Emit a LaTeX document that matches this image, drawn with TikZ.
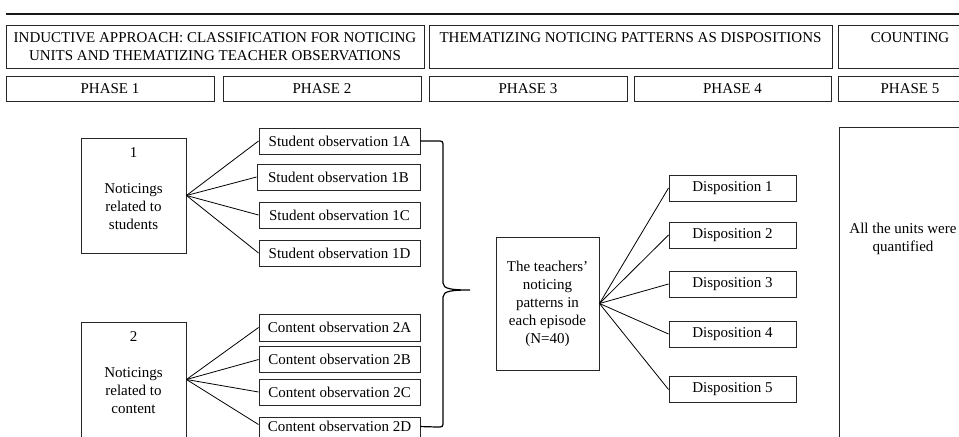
\documentclass[tikz,border=0pt]{standalone}
\usepackage{fontspec}
\setmainfont{Liberation Serif}
\usetikzlibrary{calc}
\begin{document}
\begin{tikzpicture}[x=0.75pt,y=-0.75pt,
  every node/.style={font=\fontsize{11.25pt}{13.5pt}\selectfont},
  box/.style={draw=black!85, line width=0.7pt, inner sep=0pt, align=center},
  sz/.style 2 args={minimum width=#1*0.75pt, minimum height=#2*0.75pt},
  link/.style={draw=black, line width=0.6pt},
  bracket/.style={draw=black, line width=0.9pt},
]
\useasboundingbox (0,0) rectangle (959,436);
\clip (0,0) rectangle (959,436);

% top rule
\coordinate (ruleL) at (6,14);
\coordinate (ruleR) at (1000,14);
\draw[line width=1.3pt, black!90] (ruleL) -- (ruleR);

% stage headers
\node[box, sz={418}{43}] (hA) at (215,46.5)
  {INDUCTIVE APPROACH: CLASSIFICATION FOR NOTICING\\UNITS AND THEMATIZING TEACHER OBSERVATIONS};
\node[box, sz={403}{43}] (hB) at (630.5,46.5)
  {THEMATIZING NOTICING PATTERNS AS DISPOSITIONS\\\mbox{}};
\node[box, sz={144}{43}] (hC) at (910,46.5) {COUNTING\\\mbox{}};

% phase row
\node[box, sz={208}{25}] (p1) at (110,88.5) {PHASE 1};
\node[box, sz={198}{25}] (p2) at (322,88.5) {PHASE 2};
\node[box, sz={198}{25}] (p3) at (528,88.5) {PHASE 3};
\node[box, sz={197}{25}] (p4) at (732.5,88.5) {PHASE 4};
\node[box, sz={144}{25}] (p5) at (910,88.5) {PHASE 5};

% phase 1: noticing categories
\node[box, sz={105}{115}] (n1) at (133.5,195.5) {};
\node[align=center, inner sep=0pt] (t1) at (133.5,188.5)
  {1\\\mbox{}\\Noticings\\related to\\students};
\node[box, sz={105}{115}] (n2) at (133.5,379.5) {};
\node[align=center, inner sep=0pt] (t2) at (133.5,372.5)
  {2\\\mbox{}\\Noticings\\related to\\content};

% phase 2: observations
\node[box, sz={161}{26}] (s1A) at (339.5,141) {Student observation 1A};
\node[box, sz={163}{26}] (s1B) at (338.5,177) {Student observation 1B};
\node[box, sz={161}{26}] (s1C) at (339.5,215) {Student observation 1C};
\node[box, sz={161}{26}] (s1D) at (339.5,253) {Student observation 1D};
\node[box, sz={161}{27}] (c2A) at (339.5,327.5) {Content observation 2A};
\node[box, sz={161}{26}] (c2B) at (339.5,359.5) {Content observation 2B};
\node[box, sz={161}{26}] (c2C) at (339.5,392) {Content observation 2C};
\node[box, minimum width=161*0.75pt, text height=10.5pt, text depth=9pt,
      anchor=base] (c2D) at (339.5,431) {Content observation 2D};

\foreach \t in {s1A,s1B,s1C,s1D} \draw[link] (n1.east) -- (\t.west);
\foreach \t in {c2A,c2B,c2C} \draw[link] (n2.east) -- (\t.west);
\draw[link] (n2.east) -- ($(c2D.north west)+(0,8)$);

% brace gathering all observations
\coordinate (bt) at (470,290);
\draw[bracket] (s1A.east) -- (437,141) .. controls (443,141) .. (443,147)
  -- (443,283) .. controls (443,289) and (452,290) .. (bt)
  .. controls (452,290) and (443,291) .. (443,297)
  -- (443,421) .. controls (443,427) .. (437,427)
  -- ($(c2D.north east)+(0,10)$);

% phase 3: patterns
\node[box, sz={103}{133}] (m) at (547.5,303.5)
  {The teachers'\\noticing\\patterns in\\each episode\\(N=40)};

% phase 4: dispositions
\node[box, sz={127}{26}] (d1) at (732.5,188) {Disposition 1};
\node[box, sz={127}{26}] (d2) at (732.5,235) {Disposition 2};
\node[box, sz={127}{26}] (d3) at (732.5,284) {Disposition 3};
\node[box, sz={127}{26}] (d4) at (732.5,334) {Disposition 4};
\node[box, sz={127}{26}] (d5) at (732.5,389.5) {Disposition 5};
\foreach \t in {d1,d2,d3,d4,d5} \draw[link] (m.east) -- (\t.west);

% phase 5: counting
\node[box, sz={200}{420}] (cnt) at (939,337) {};
\node[align=center, inner sep=0pt] (qt) at (903,238.5)
  {All the units were\\quantified};
\end{tikzpicture}
\end{document}
